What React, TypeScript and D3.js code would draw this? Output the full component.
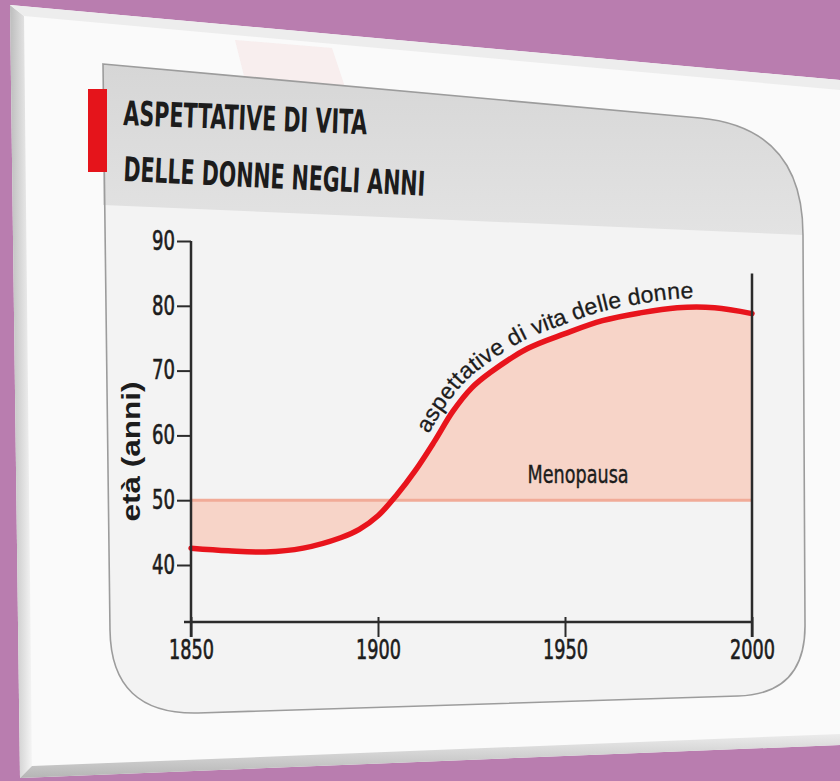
import React, { useEffect, useRef } from 'react';
import * as d3 from 'd3';

// women's life expectancy
const years = [1850, 1860, 1870, 1880, 1890, 1895, 1900, 1905, 1910, 1915, 1920, 1925, 1930, 1940, 1950, 1960, 1970, 1980, 1990, 2000];
const ages = [42.6, 42.2, 42.0, 42.6, 44.2, 45.5, 47.6, 50.8, 54.6, 59.0, 63.7, 67.3, 69.7, 73.4, 75.7, 77.7, 78.9, 79.7, 79.7, 78.8];
const yearTicks = [1850, 1900, 1950, 2000];
const ageTicks = [40, 50, 60, 70, 80, 90];
const menopause = 50;
const titleLines = ['ASPETTATIVE DI VITA', 'DELLE DONNE NEGLI ANNI'];
const curveLabel = 'aspettative di vita delle donne';
const bandLabel = 'Menopausa';
const axisLabel = 'età (anni)';

const W = 840;
const H = 781;
const NARROW = "'Liberation Sans Narrow', 'Arial Narrow', 'DejaVu Sans Condensed', sans-serif";
const SANS = "'Liberation Sans', Arial, sans-serif";
const INK = '#1c1c1c';

const App: React.FC = () => {
  const svgRef = useRef<SVGSVGElement>(null);

  useEffect(() => {
    if (!svgRef.current) return;
    const svg = d3.select(svgRef.current);
    svg.selectAll('*').remove();

    const data = years.map((yr, i) => ({ year: yr, age: ages[i] }));

    const x = d3.scaleLinear().domain([1850, 2000]).range([191, 752]);
    const y = d3.scaleLinear().domain([40, 90]).range([565, 241]);
    const axisY = 622;

    const defs = svg.append('defs');
    const band = defs.append('linearGradient').attr('id', 'band').attr('x1', 0).attr('y1', 0).attr('x2', 0).attr('y2', 1);
    band.append('stop').attr('offset', '0%').attr('stop-color', '#d6d6d6');
    band.append('stop').attr('offset', '100%').attr('stop-color', '#e3e3e3');
    const bevL = defs.append('linearGradient').attr('id', 'bevL').attr('x1', 0).attr('y1', 0).attr('x2', 1).attr('y2', 0);
    bevL.append('stop').attr('offset', '0%').attr('stop-color', '#bdbdbd');
    bevL.append('stop').attr('offset', '100%').attr('stop-color', '#f5f5f5');
    const bevB = defs.append('linearGradient').attr('id', 'bevB').attr('x1', 0).attr('y1', 0).attr('x2', 0).attr('y2', 1);
    bevB.append('stop').attr('offset', '0%').attr('stop-color', '#ececec');
    bevB.append('stop').attr('offset', '100%').attr('stop-color', '#b5b5b5');

    // background + page
    svg.append('rect').attr('width', W).attr('height', H).attr('fill', '#b97daf');
    svg.append('polygon').attr('points', '10,5 840,80 840,745 20,778').attr('fill', '#fafafa');
    svg.append('polygon').attr('points', '10,5 24,16 32,766 20,778').attr('fill', 'url(#bevL)');
    svg.append('polygon').attr('points', '10,5 840,80 840,90 24,16').attr('fill', '#ededed');
    svg.append('polygon').attr('points', '20,778 32,766 840,734 840,745').attr('fill', 'url(#bevB)');
    svg.append('polygon').attr('points', '235,40 332,48 346,90 246,84').attr('fill', '#f4d6d8').attr('opacity', 0.35);

    // frame + header band
    const frame = 'M103,64 L700,118 Q803,128 803,235 L805,624 Q806,694 738,696 L198,713 Q111,715 110,630 Z';
    svg.append('path').attr('d', frame).attr('fill', '#f3f3f3');
    svg.append('path').attr('d', 'M103,64 L700,118 Q803,128 803,235 L103,205 Z').attr('fill', 'url(#band)');
    svg.append('path').attr('d', frame).attr('fill', 'none').attr('stroke', '#9c9c9c').attr('stroke-width', 1.6);
    svg.append('rect').attr('x', 88).attr('y', 89).attr('width', 19).attr('height', 83).attr('fill', '#e5141b');

    const titleY = [125, 181];
    const titleLen = [244, 302];
    titleLines.forEach((t, i) => {
      svg.append('text')
        .attr('x', 123).attr('y', titleY[i])
        .attr('transform', `rotate(${i === 0 ? 2.2 : 2.8},123,${titleY[i]})`)
        .attr('font-family', NARROW).attr('font-weight', 'bold').attr('font-size', 34)
        .attr('textLength', titleLen[i]).attr('lengthAdjust', 'spacingAndGlyphs')
        .attr('fill', INK)
        .text(t);
    });

    const curve = d3.curveCatmullRom.alpha(0.5);

    // menopause band
    const area = d3.area<{ year: number; age: number }>()
      .x(d => x(d.year))
      .y0(y(menopause))
      .y1(d => y(d.age))
      .curve(curve);
    svg.append('path').datum(data).attr('d', area).attr('fill', '#f7d4c8');
    svg.append('line')
      .attr('x1', x(1850)).attr('x2', x(2000))
      .attr('y1', y(menopause)).attr('y2', y(menopause))
      .attr('stroke', '#f1ab98').attr('stroke-width', 3);

    // life expectancy curve
    const line = d3.line<{ year: number; age: number }>()
      .x(d => x(d.year))
      .y(d => y(d.age))
      .curve(curve);
    svg.append('path').datum(data).attr('d', line)
      .attr('fill', 'none').attr('stroke', '#e8141c').attr('stroke-width', 5.5).attr('stroke-linecap', 'round');

    defs.append('path').attr('id', 'lifePath').datum(data.filter(d => d.year >= 1910)).attr('d', line);
    svg.append('text')
      .attr('font-family', SANS).attr('font-size', 23).attr('fill', INK)
      .attr('stroke', INK).attr('stroke-width', 0.3)
      .attr('dy', -9)
      .append('textPath')
      .attr('href', '#lifePath')
      .attr('startOffset', 38)
      .text(curveLabel);

    svg.append('text')
      .attr('x', x(1953.5)).attr('y', y(52.6))
      .attr('text-anchor', 'middle')
      .attr('font-family', NARROW).attr('font-size', 25)
      .attr('textLength', 101).attr('lengthAdjust', 'spacingAndGlyphs')
      .attr('fill', INK).attr('stroke', INK).attr('stroke-width', 0.4)
      .text(bandLabel);

    // axes
    const gy = svg.append('g')
      .attr('transform', `translate(${x(1850)},0)`)
      .call(d3.axisLeft(y).tickValues(ageTicks).tickSize(14).tickPadding(2));
    gy.select('.domain').remove();
    gy.selectAll('line').attr('stroke', '#2b2b2b').attr('stroke-width', 2);
    gy.selectAll('text').attr('font-family', NARROW).attr('font-size', 26).attr('fill', INK)
      .attr('stroke', INK).attr('stroke-width', 0.6)
      .attr('textLength', 23).attr('lengthAdjust', 'spacingAndGlyphs');

    const gx = svg.append('g')
      .attr('transform', `translate(0,${axisY})`)
      .call(d3.axisBottom(x).tickValues(yearTicks).tickSize(15).tickPadding(4).tickFormat(d3.format('d')));
    gx.select('.domain').remove();
    gx.selectAll('line').attr('y1', -5).attr('stroke', '#2b2b2b').attr('stroke-width', 2);
    gx.selectAll('text').attr('font-family', NARROW).attr('font-size', 26).attr('fill', INK)
      .attr('stroke', INK).attr('stroke-width', 0.6)
      .attr('textLength', 45).attr('lengthAdjust', 'spacingAndGlyphs');

    const axisStroke = (sel: d3.Selection<SVGLineElement, unknown, null, undefined>) =>
      sel.attr('stroke', '#2b2b2b').attr('stroke-width', 2.5);
    svg.append('line').attr('x1', x(1850)).attr('x2', x(1850)).attr('y1', y(90)).attr('y2', axisY + 15).call(axisStroke);
    svg.append('line').attr('x1', x(1850) - 7).attr('x2', x(2000)).attr('y1', axisY).attr('y2', axisY).call(axisStroke);
    svg.append('line').attr('x1', x(2000)).attr('x2', x(2000)).attr('y1', y(85)).attr('y2', axisY + 15).call(axisStroke);

    svg.append('text')
      .attr('transform', `translate(140,${y(57.5)}) rotate(-90)`)
      .attr('text-anchor', 'middle')
      .attr('font-family', SANS).attr('font-weight', 'bold').attr('font-size', 25)
      .attr('textLength', 140).attr('lengthAdjust', 'spacingAndGlyphs')
      .attr('fill', INK)
      .text(axisLabel);
  }, []);

  return (
    <svg
      ref={svgRef}
      width={W}
      height={H}
      style={{ position: 'absolute', left: 0, top: 0, display: 'block' }}
    />
  );
};

export default App;
